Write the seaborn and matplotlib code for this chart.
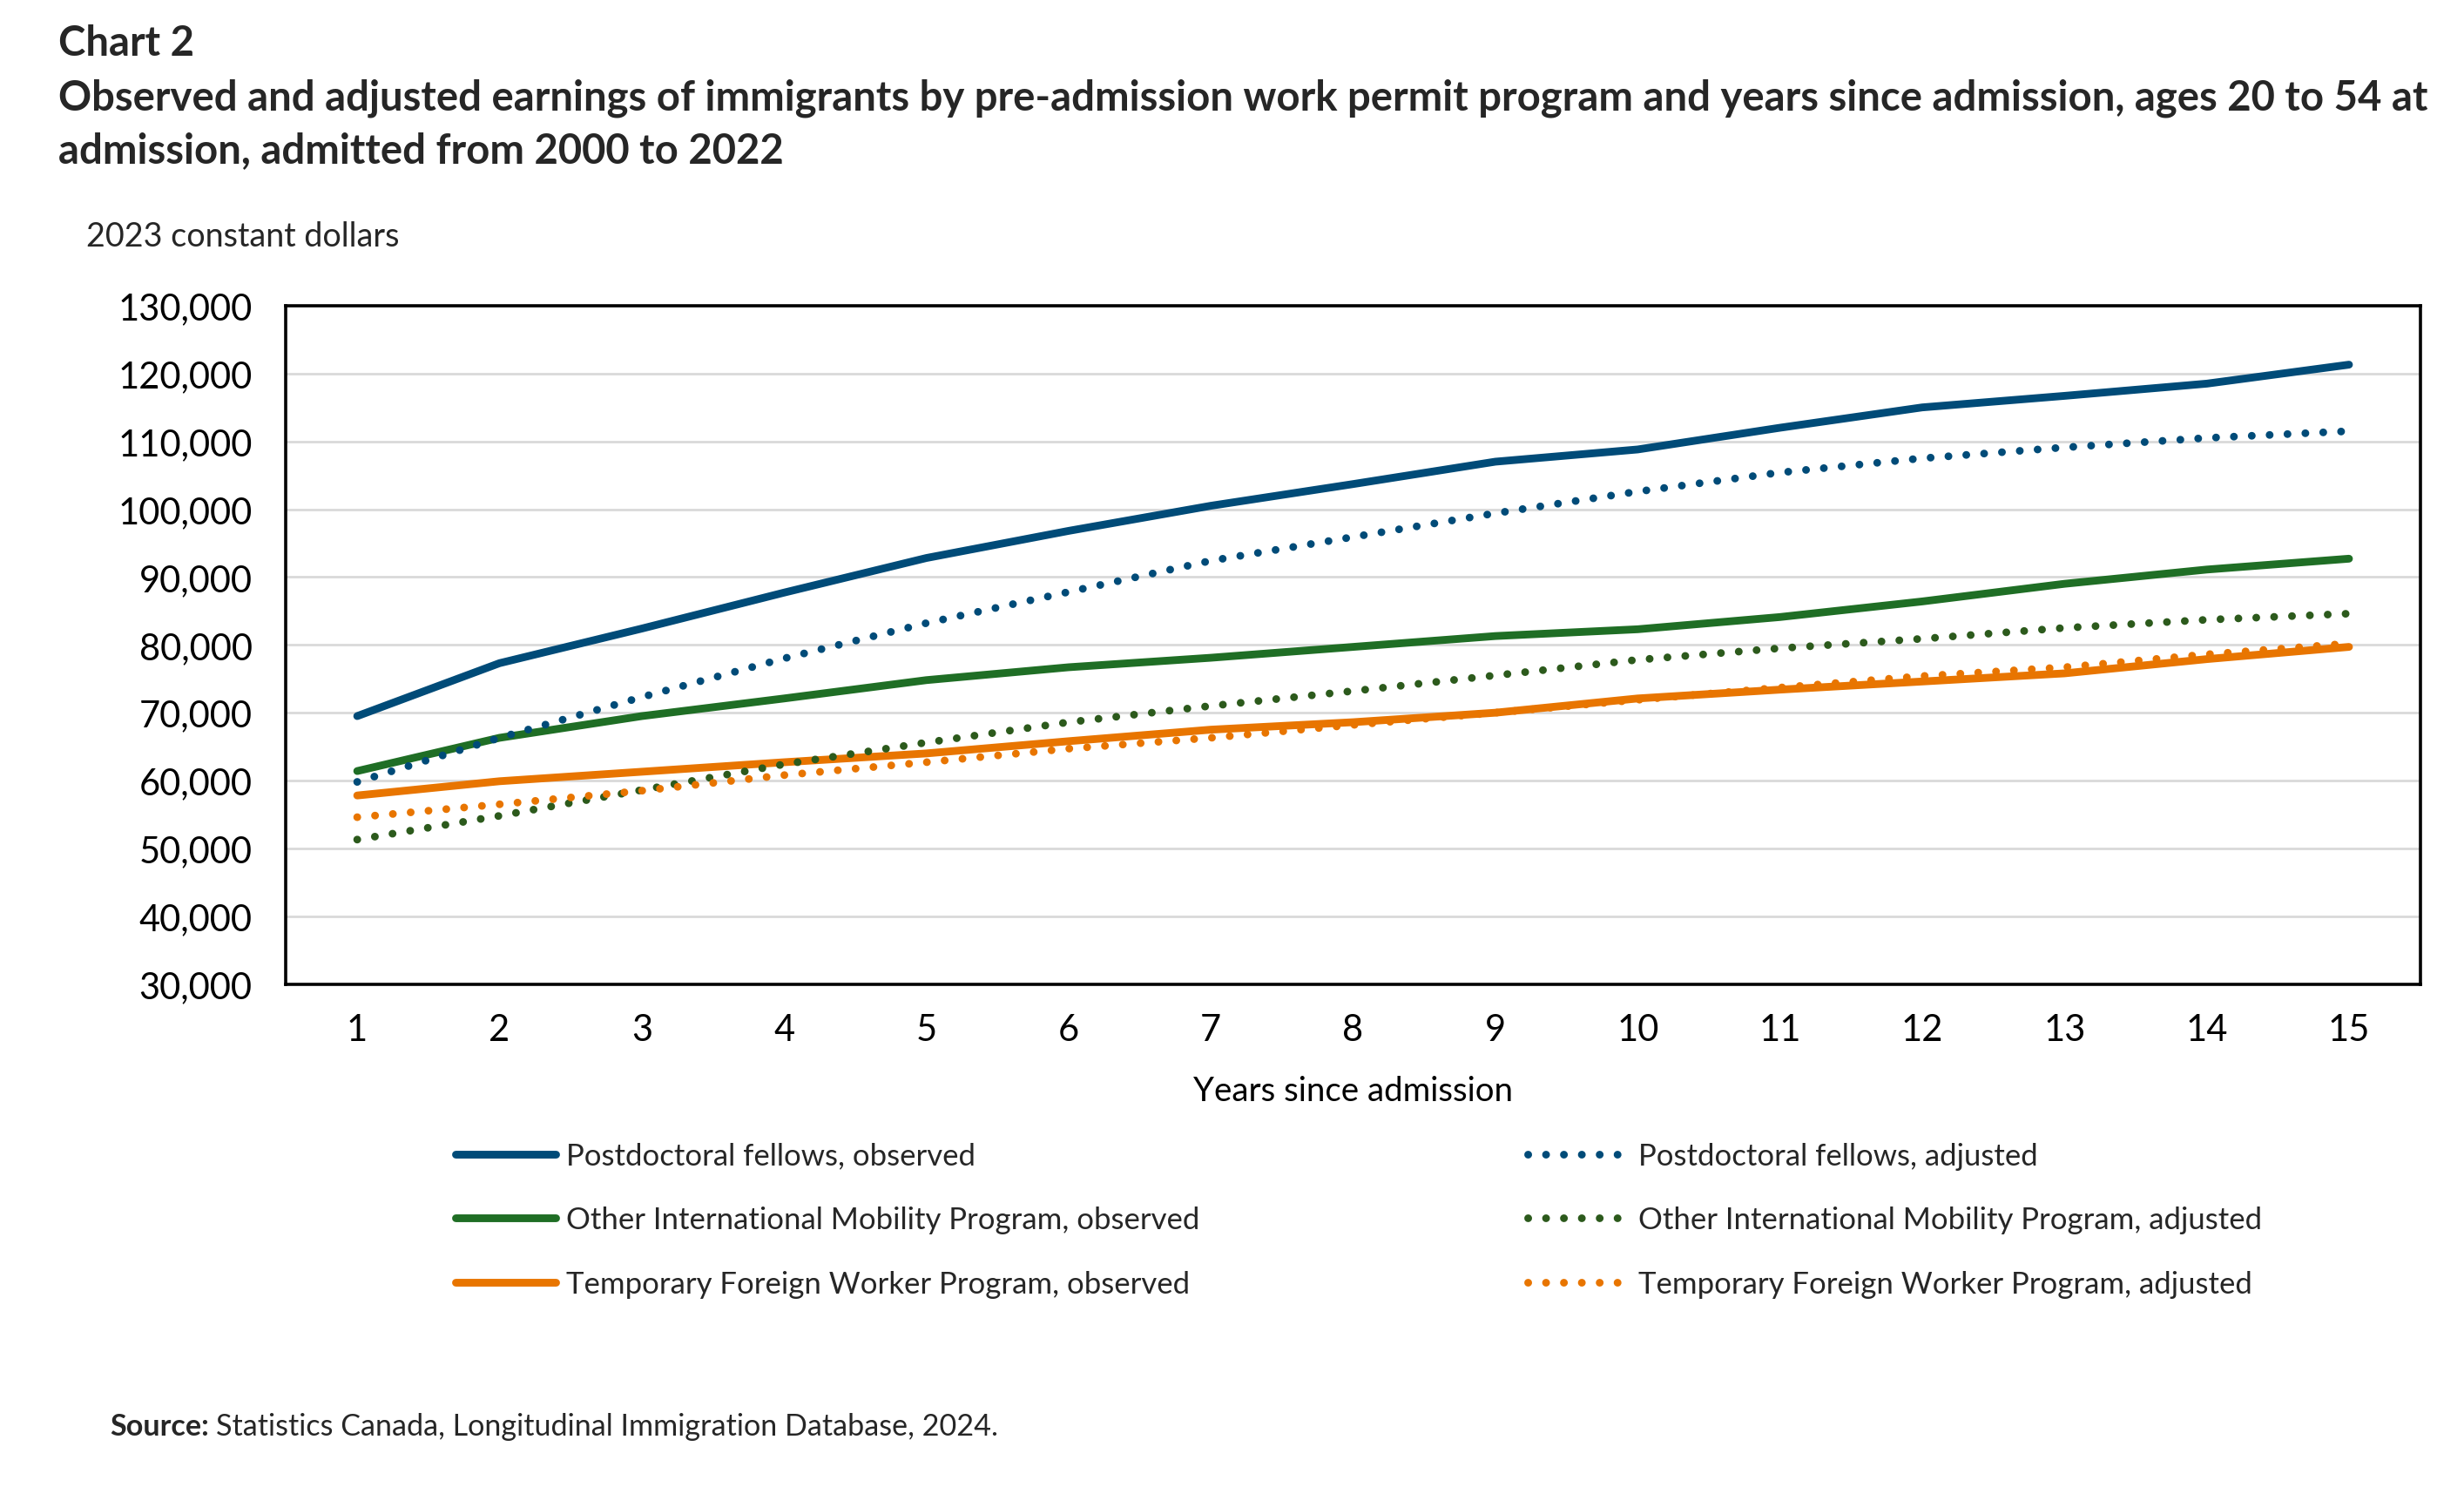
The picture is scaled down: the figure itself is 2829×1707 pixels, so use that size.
import matplotlib
matplotlib.use("Agg")
import matplotlib.pyplot as plt
import seaborn as sns
import pandas as pd
from matplotlib.ticker import FuncFormatter

# data
years = list(range(1, 16))
postdoc_obs = [69500, 77300, 82400, 87700, 92800, 96800, 100500, 103700, 107000, 108800, 112000, 115000, 116700, 118500, 121300]
postdoc_adj = [59800, 66300, 72300, 78000, 83200, 87800, 92400, 95900, 99400, 102600, 105400, 107500, 109100, 110500, 111500]
imp_obs = [61400, 66300, 69500, 72100, 74800, 76700, 78100, 79700, 81300, 82300, 84100, 86400, 89000, 91100, 92700]
imp_adj = [51300, 54800, 58600, 62400, 65600, 68600, 71000, 73200, 75500, 77800, 79500, 80900, 82500, 83700, 84600]
tfwp_obs = [57800, 59900, 61300, 62700, 64000, 65800, 67500, 68600, 70000, 72100, 73400, 74600, 75800, 77900, 79700]
tfwp_adj = [54600, 56500, 58500, 60800, 62700, 64700, 66300, 68200, 70000, 71900, 73700, 75400, 76700, 78600, 80200]

labels_obs = ["Postdoctoral fellows, observed",
              "Other International Mobility Program, observed",
              "Temporary Foreign Worker Program, observed"]
labels_adj = ["Postdoctoral fellows, adjusted",
              "Other International Mobility Program, adjusted",
              "Temporary Foreign Worker Program, adjusted"]

NAVY = "#004B78"
GREEN = "#1F6E25"
DKGREEN = "#2C5A1C"
ORANGE = "#E87500"

sns.set_theme(style="white")
plt.rcParams['font.family'] = ['Lato', 'DejaVu Sans']

fig = plt.figure(figsize=(14.145, 8.54), dpi=200)
ax = fig.add_axes([0.1161, 0.338, 0.8661, 0.456])

dots = (0, (0.01, 2.3))
series = [
    (postdoc_obs, NAVY, "-"), (imp_obs, GREEN, "-"), (tfwp_obs, ORANGE, "-"),
    (postdoc_adj, NAVY, dots), (imp_adj, DKGREEN, dots), (tfwp_adj, ORANGE, dots),
]
handles = []
for vals, col, ls in series:
    df = pd.DataFrame({"year": years, "value": vals})
    n = len(ax.lines)
    sns.lineplot(data=df, x="year", y="value", ax=ax, color=col, linestyle=ls,
                 linewidth=3.2, solid_capstyle="round", dash_capstyle="round")
    handles.append(ax.lines[n])

ax.set_xlim(0.5, 15.5)
ax.set_ylim(30000, 130000)
ax.set_xticks(years)
ax.set_yticks(range(30000, 130001, 10000))
ax.yaxis.set_major_formatter(FuncFormatter(lambda v, p: f"{int(v):,}"))
ax.grid(axis="y", color="#D9D9D9", linewidth=1.0)
ax.set_axisbelow(True)
for s in ax.spines.values():
    s.set_color("black")
    s.set_linewidth(1.3)
ax.tick_params(axis="both", length=0, labelsize=15, colors="black")
ax.tick_params(axis="y", pad=14)
ax.tick_params(axis="x", pad=12)
ax.set_xlabel("Years since admission", fontsize=13.8, labelpad=12, color="black")
ax.set_ylabel("")

# titles
fig.text(0.0236, 0.971, "Chart 2", fontsize=17, fontweight="bold", va="center", ha="left")
fig.text(0.0236, 0.947, "Observed and adjusted earnings of immigrants by pre-admission work permit program and years since admission, ages 20 to 54 at\nadmission, admitted from 2000 to 2022",
         fontsize=17, fontweight="bold", va="top", ha="left", linespacing=1.45)
fig.text(0.035, 0.841, "2023 constant dollars", fontsize=13.6, va="center", ha="left")

# legend in two columns
leg_kw = dict(loc="upper left", frameon=False, fontsize=12.5, handlelength=3.3,
              handletextpad=0.35, labelspacing=1.2, borderpad=0, borderaxespad=0)
fig.legend(handles[:3], labels_obs, bbox_to_anchor=(0.185, 0.232), **leg_kw)
fig.legend(handles[3:], labels_adj, bbox_to_anchor=(0.620, 0.232), **leg_kw)

# source note
src = fig.text(0.0446, 0.041, "Source:", fontsize=12.3, fontweight="bold", va="center", ha="left")
fig.canvas.draw()
bb = src.get_window_extent().transformed(fig.transFigure.inverted())
fig.text(bb.x1 + 0.003, 0.041, "Statistics Canada, Longitudinal Immigration Database, 2024.",
         fontsize=12.3, va="center", ha="left")

fig.savefig("out.png", dpi=200)
